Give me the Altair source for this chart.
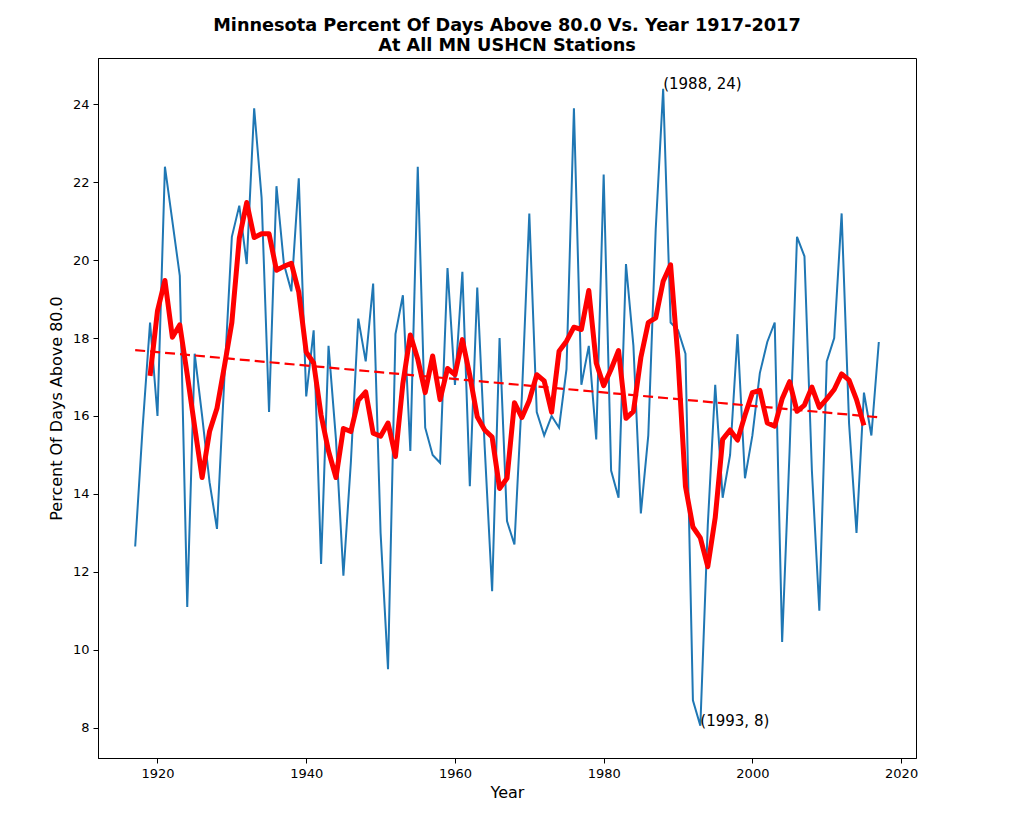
import altair as alt
import pandas as pd

# ---- data ----
start_year = 1917
pct_values = [
    12.65, 15.7, 18.4, 16.0, 22.4, 21.0, 19.6, 11.1, 17.6, 16.0,   # 1917-1926
    14.3, 13.1, 17.0, 20.6, 21.4, 19.9, 23.9, 21.6, 16.1, 21.9,    # 1927-1936
    19.9, 19.2, 22.1, 16.5, 18.2, 12.2, 17.8, 15.4, 11.9, 14.8,    # 1937-1946
    18.5, 17.4, 19.4, 13.0, 9.5, 18.1, 19.1, 15.1, 22.4, 15.7,     # 1947-1956
    15.0, 14.8, 19.8, 16.8, 19.7, 14.2, 19.3, 15.2, 11.5, 18.0,    # 1957-1966
    13.3, 12.7, 16.5, 21.2, 16.1, 15.5, 16.0, 15.7, 17.2, 23.9,    # 1967-1976
    16.8, 17.8, 15.4, 22.2, 14.6, 13.9, 19.9, 17.8, 13.5, 15.5,    # 1977-1986
    20.8, 24.4, 18.4, 18.2, 17.6, 8.7, 8.05, 13.2, 16.8, 13.9,     # 1987-1996
    15.0, 18.1, 14.4, 15.5, 17.1, 17.9, 18.4, 10.2, 15.1, 20.6,    # 1997-2006
    20.1, 14.6, 11.0, 17.4, 18.0, 21.2, 15.8, 13.0, 16.6, 15.5,    # 2007-2016
    17.9,                                                          # 2017
]
years = list(range(start_year, start_year + len(pct_values)))

ann_years = [1988, 1993]
ann_values = [24.4, 8.05]
ann_labels = ["(1988, 24)", "(1993, 8)"]

x_ticks = [1920, 1940, 1960, 1980, 2000, 2020]
y_ticks = [8, 10, 12, 14, 16, 18, 20, 22, 24]

title_lines = ["Minnesota Percent Of Days Above 80.0 Vs. Year 1917-2017",
               "At All MN USHCN Stations"]
x_title = "Year"
y_title = "Percent Of Days Above 80.0"

df = pd.DataFrame({"year": years, "pct": pct_values})
ann = pd.DataFrame({"year": ann_years, "pct": ann_values, "label": ann_labels})

x_scale = alt.Scale(domain=[1912, 2022], nice=False, zero=False)
y_scale = alt.Scale(domain=[7.22, 25.19], nice=False, zero=False)


def xenc():
    return alt.X("year:Q", scale=x_scale,
                 axis=alt.Axis(values=x_ticks, format="d", title=x_title,
                               grid=False, titlePadding=4))


def yenc(field):
    return alt.Y(f"{field}:Q", scale=y_scale,
                 axis=alt.Axis(values=y_ticks, title=y_title, grid=False,
                               titlePadding=8))


base = alt.Chart(df)

raw = base.mark_line(color="#1f77b4", strokeWidth=2).encode(x=xenc(), y=yenc("pct"))

trend = (
    base.transform_regression("year", "pct", method="linear", extent=[1917, 2017])
    .mark_line(color="red", strokeWidth=2.2, strokeDash=[10, 5])
    .encode(x=xenc(), y=yenc("pct"))
)

smooth = (
    base.transform_window(ma="mean(pct)", n="count(pct)", frame=[-2, 2],
                          sort=[alt.SortField("year")])
    .transform_filter("datum.n == 5")
    .mark_line(color="red", strokeWidth=5, strokeJoin="round", strokeCap="butt")
    .encode(x=xenc(), y=yenc("ma"))
)

labels = alt.Chart(ann).mark_text(
    align="left", baseline="alphabetic", fontSize=15, font="DejaVu Sans", color="black"
).encode(x=xenc(), y=yenc("pct"), text="label:N")

chart = (
    alt.layer(raw, trend, smooth, labels)
    .properties(
        width=818,
        height=700,
        autosize=alt.AutoSizeParams(type="none"),
        padding={"left": 90, "top": 50, "right": 98, "bottom": 58},
        title=alt.TitleParams(
            text=title_lines, font="DejaVu Sans", fontSize=17.7, fontWeight="bold",
            anchor="middle", color="black", lineHeight=20, offset=-15, baseline="bottom",
        ),
    )
    .configure_view(stroke="black", strokeWidth=1)
    .configure_axis(
        domainColor="black", tickColor="black", labelColor="black", titleColor="black",
        labelFont="DejaVu Sans", titleFont="DejaVu Sans", labelFontSize=13,
        titleFontSize=16, titleFontWeight="normal", tickSize=5, labelPadding=4,
        domainWidth=1, tickWidth=1,
    )
)

chart.save("out.html", embed_options={"renderer": "svg", "actions": False})
